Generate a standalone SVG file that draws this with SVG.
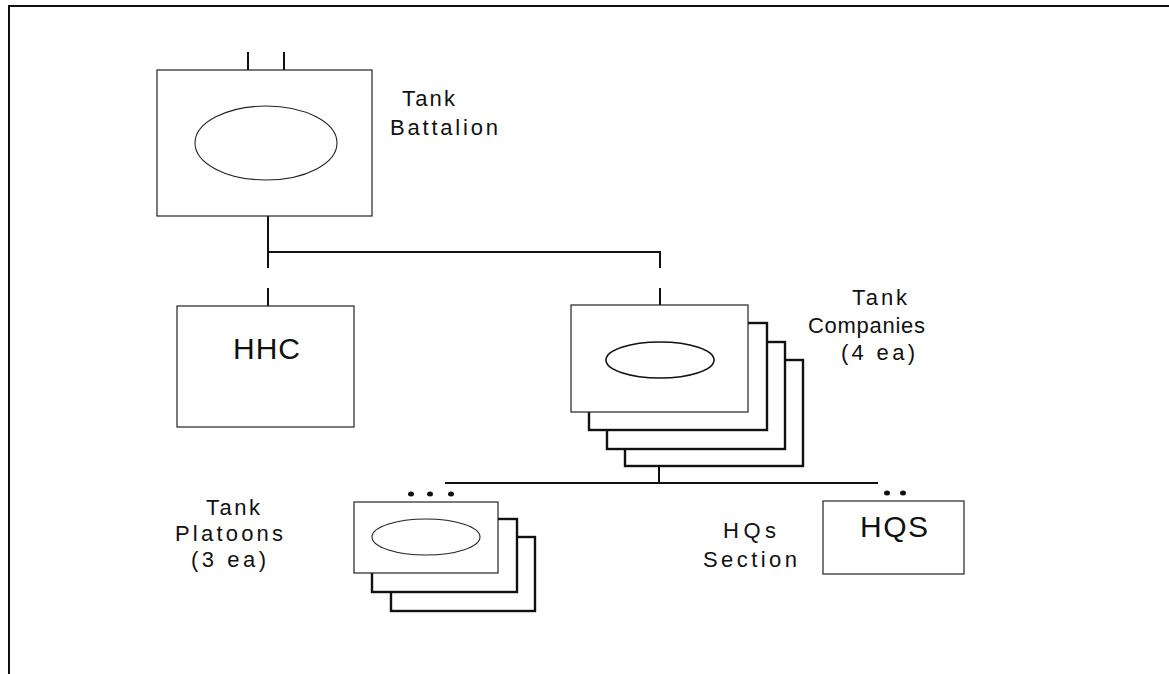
<svg xmlns="http://www.w3.org/2000/svg" width="1169" height="674" viewBox="0 0 1169 674">
<style>
.frame{fill:none;stroke:#111;stroke-width:2}
.box{fill:#fff;stroke:#222;stroke-width:1.2}
.stack{fill:#fff;stroke:#111;stroke-width:2.4}
.conn{fill:none;stroke:#111;stroke-width:2}
.oval{fill:none;stroke:#222;stroke-width:1.1}
.ovalb{fill:none;stroke:#111;stroke-width:1.6}
.lbl{font-family:"Liberation Sans",Arial,sans-serif;font-size:22px;fill:#111}
.big{font-family:"Liberation Sans",Arial,sans-serif;font-size:30px;fill:#111}
.dot{fill:#111}
</style>
<rect width="1169" height="674" fill="#fff"/>
<path class="frame" d="M9,674 V6 H1169"/>
<g id="connectors">
<path class="conn" d="M268,216 V268 M268,252 H660 V268 M268,288 V306 M660,288 V305"/>
<path class="conn" d="M659,466 V483 M445,483 H878"/>
<path class="conn" d="M248,52 V70 M284,52 V70"/>
</g>
<g id="battalion">
<rect class="box" x="157" y="70" width="215" height="146"/>
<ellipse class="oval" cx="266" cy="143" rx="71" ry="37"/>
<text class="lbl" x="402" y="106" textLength="53" lengthAdjust="spacing">Tank</text>
<text class="lbl" x="390" y="135" textLength="108" lengthAdjust="spacing">Battalion</text>
</g>
<g id="hhc">
<rect class="box" x="177" y="306" width="177" height="121"/>
<text class="big" x="233" y="359" textLength="67" lengthAdjust="spacing">HHC</text>
</g>
<g id="companies">
<rect class="stack" x="625" y="360" width="178" height="106"/>
<rect class="stack" x="607" y="342" width="178" height="107"/>
<rect class="stack" x="589" y="323" width="178" height="107"/>
<rect class="box" x="571" y="305" width="177" height="107"/>
<ellipse class="ovalb" cx="660" cy="360" rx="54" ry="18"/>
<text class="lbl" x="852" y="305" textLength="55" lengthAdjust="spacing">Tank</text>
<text class="lbl" x="808" y="333" textLength="117" lengthAdjust="spacing">Companies</text>
<text class="lbl" x="841" y="360" textLength="74" lengthAdjust="spacing">(4 ea)</text>
</g>
<g id="platoons">
<rect class="stack" x="391" y="537" width="144" height="74"/>
<rect class="stack" x="372" y="519" width="145" height="73"/>
<rect class="box" x="354" y="502" width="144" height="71"/>
<ellipse class="oval" cx="426" cy="537" rx="54" ry="18"/>
<ellipse class="dot" cx="411" cy="494" rx="3" ry="2.5"/>
<ellipse class="dot" cx="430" cy="494" rx="3" ry="2.5"/>
<ellipse class="dot" cx="451" cy="494" rx="3" ry="2.5"/>
<text class="lbl" x="206" y="515" textLength="54" lengthAdjust="spacing">Tank</text>
<text class="lbl" x="175" y="541" textLength="108" lengthAdjust="spacing">Platoons</text>
<text class="lbl" x="191" y="567" textLength="75" lengthAdjust="spacing">(3 ea)</text>
</g>
<g id="hqs">
<rect class="box" x="823" y="501" width="141" height="73"/>
<ellipse class="dot" cx="887" cy="493" rx="3" ry="2.5"/>
<ellipse class="dot" cx="903" cy="493" rx="3" ry="2.5"/>
<text class="big" x="860" y="537" textLength="68" lengthAdjust="spacing">HQS</text>
<text class="lbl" x="723" y="538" textLength="53" lengthAdjust="spacing">HQs</text>
<text class="lbl" x="703" y="567" textLength="94" lengthAdjust="spacing">Section</text>
</g>
</svg>
